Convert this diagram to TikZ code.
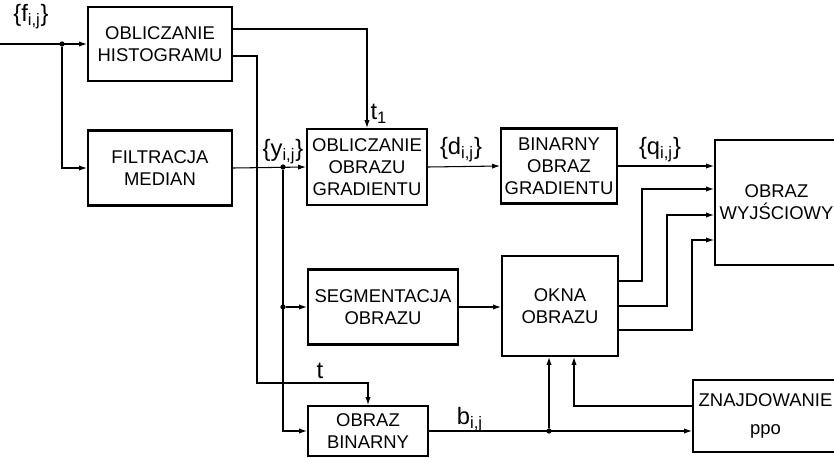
\documentclass[tikz,border=0pt]{standalone}
\usepackage{fontspec}
\setmainfont{Liberation Sans}
\usetikzlibrary{arrows.meta}
\begin{document}
\begin{tikzpicture}[x=0.02cm,y=-0.02cm,
    blok/.style={draw,line width=1.2pt,align=center,inner sep=0pt,
      font=\fontsize{10.5}{12.5}\selectfont},
    lin/.style={line width=0.6pt},
    str/.style={lin,-{Latex[length=4.5pt,width=3pt]}},
    etyk/.style={font=\fontsize{13.5}{15}\selectfont,inner sep=0pt},
    kropka/.style={circle,fill,inner sep=0pt,minimum size=3pt}]
    \clip (0,0) rectangle (834,457);
    \useasboundingbox (0,0) rectangle (834,457);

    % bloki
    \node[blok,minimum width=2.88cm,minimum height=1.48cm] (hist) at (160,44) {OBLICZANIE\\HISTOGRAMU};
    \node[blok,minimum width=2.88cm,minimum height=1.5cm] (filtr) at (160,168) {FILTRACJA\\MEDIAN};
    \node[blok,minimum width=2.4cm,minimum height=1.52cm] (grad) at (367,167) {OBLICZANIE\\OBRAZU\\GRADIENTU};
    \node[blok,minimum width=2.32cm,minimum height=1.5cm] (bingrad) at (559,166) {BINARNY\\OBRAZ\\GRADIENTU};
    \node[blok,minimum width=2.46cm,minimum height=2.5cm] (wyj) at (776.5,202.5) {OBRAZ\\WYJŚCIOWY};
    \node[blok,minimum width=3cm,minimum height=1.5cm] (segm) at (383,307) {SEGMENTACJA\\OBRAZU};
    \node[blok,minimum width=2.32cm,minimum height=2cm] (okna) at (560,306) {OKNA\\OBRAZU};
    \node[blok,minimum width=2.4cm,minimum height=1cm] (obrbin) at (368,431) {OBRAZ\\BINARNY};
    \node[blok,minimum width=2.9cm,minimum height=1.44cm,font=\fontsize{10.5}{16}\selectfont] (znajd) at (765.5,416) {ZNAJDOWANIE\\ppo};

    % punkty pomocnicze
    \coordinate (wej) at (0,44);
    \node[kropka] (j1) at (62,44) {};
    \node[kropka] (j2) at (283,167) {};
    \node[kropka] (j3) at (283,307) {};
    \node[kropka] (j4) at (549,431) {};

    % polaczenia
    \draw[str] (wej) -- (hist.west);
    \draw[str] (j1) |- (filtr.west);
    \draw[str] (hist.east |- 0,29) -| (grad.north);
    \draw[str] (hist.east |- 0,56) -- (257,56) -- (257,383) -| (obrbin.north);
    \draw[str] (filtr.east) -- (grad.west);
    \draw[str] (j2) |- (obrbin.west);
    \draw[str] (j3) -- (segm.west);
    \draw[str] (grad.east) -- (bingrad.west);
    \draw[str] (bingrad.east) -- (bingrad.east -| wyj.west);
    \draw[str] (segm.east) -- (segm.east -| okna.west);
    \draw[str] (okna.east |- 0,281) -- (642,281) |- (wyj.west |- 0,189);
    \draw[str] (okna.east |- 0,306) -- (667,306) |- (wyj.west |- 0,215);
    \draw[str] (okna.east |- 0,330) -- (692,330) |- (wyj.west |- 0,240);
    \draw[str] (obrbin.east) -- (obrbin.east -| znajd.west);
    \draw[str] (j4) -- (j4 |- okna.south);
    \draw[str] (znajd.west |- 0,406) -- (574,406) -- (574,0 |- okna.south);

    % etykiety
    \node[etyk] (lf) at (31,17) {\{f\textsubscript{i,j}\}};
    \node[etyk] (ly) at (283,152) {\{y\textsubscript{i,j}\}};
    \node[etyk] (ld) at (461,150) {\{d\textsubscript{i,j}\}};
    \node[etyk] (lq) at (660,150) {\{q\textsubscript{i,j}\}};
    \node[etyk] (lt1) at (379,114) {t\textsubscript{1}};
    \node[etyk] (lt) at (320,371) {t};
    \node[etyk] (lb) at (470,420) {b\textsubscript{i,j}};
\end{tikzpicture}
\end{document}
